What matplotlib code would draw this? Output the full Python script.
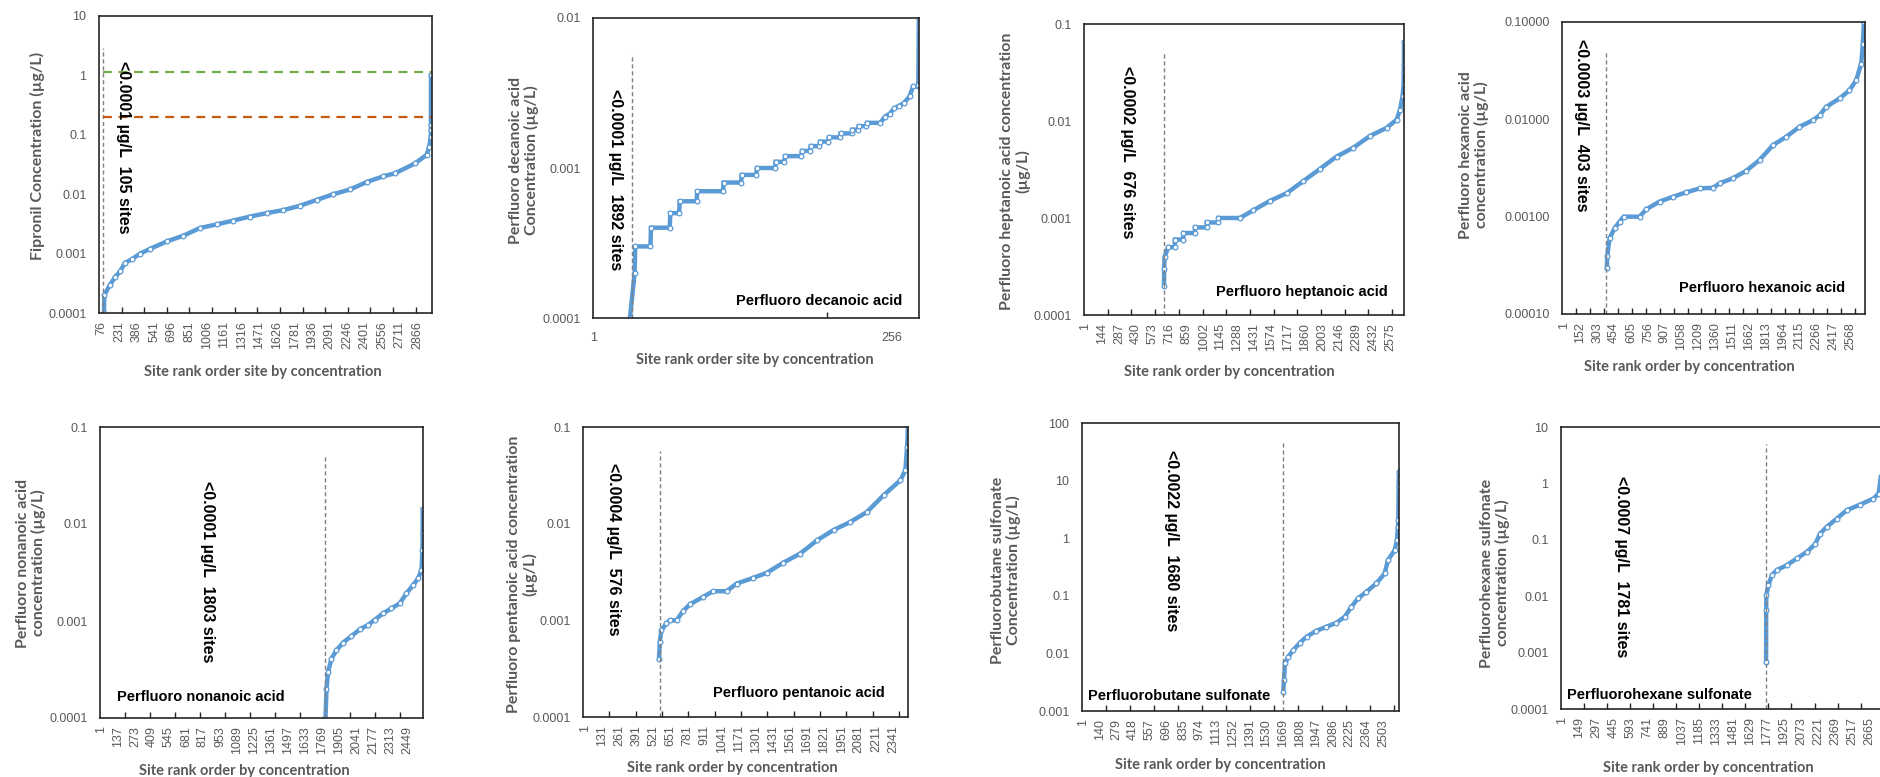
import matplotlib
matplotlib.use('Agg')
import matplotlib.pyplot as plt
from matplotlib.ticker import FixedLocator, NullLocator, FuncFormatter

# Site rank vs concentration
fipronil_rank = [96, 99, 150, 193, 238, 282, 341, 415, 503, 650, 797, 945, 1092, 1239, 1386,
                 1534, 1681, 1829, 1976, 2123, 2271, 2418, 2565, 2669, 2846, 2949, 2972, 2985,
                 2986, 2986, 2987]
fipronil_conc = [0.0001, 0.0002, 0.0003, 0.0004, 0.0005, 0.0007, 0.0008, 0.001, 0.0012, 0.0016,
                 0.002, 0.0027, 0.0031, 0.0036, 0.0042, 0.0048, 0.0054, 0.0064, 0.008, 0.01,
                 0.012, 0.016, 0.020, 0.0225, 0.033, 0.046, 0.063, 0.093, 0.12, 0.145, 1.0]
fipronil_xticks = [76, 231, 386, 541, 696, 851, 1006, 1161, 1316, 1471, 1626, 1781, 1936, 2091,
                   2246, 2401, 2556, 2711, 2866]
fipronil_limits = [1.15, 0.2]   # green / orange reference lines

pfda_rank = [32, 36, 36.5, 49.5, 50, 66, 66.5, 74, 74.5, 89, 89.5, 111.5, 112, 127, 127.5, 140,
             140.5, 156, 156.5, 164, 164.5, 178.5, 179, 186, 186.5, 194, 194.5, 201.5, 202, 211.5,
             212, 221.5, 222, 227, 227.5, 234, 234.5, 246, 250, 254, 258, 262, 266, 271, 274, 278,
             278.5, 279]
pfda_conc = [0.0001, 0.0002, 0.0003, 0.0003, 0.0004, 0.0004, 0.0005, 0.0005, 0.0006, 0.0006,
             0.0007, 0.0007, 0.0008, 0.0008, 0.0009, 0.0009, 0.001, 0.001, 0.0011, 0.0011, 0.0012,
             0.0012, 0.0013, 0.0013, 0.0014, 0.0014, 0.0015, 0.0015, 0.0016, 0.0016, 0.0017,
             0.0017, 0.0018, 0.0018, 0.0019, 0.0019, 0.002, 0.002, 0.0022, 0.0023, 0.0025, 0.0026,
             0.0027, 0.003, 0.0035, 0.0035, 0.0036, 0.01]
pfda_xticks = [1, 256]

pfhpa_rank = [668, 669, 673, 704, 759, 760, 830, 831, 928, 929, 1027, 1028, 1125, 1126, 1308,
              1421, 1561, 1702, 1843, 1983, 2124, 2265, 2405, 2546, 2630, 2659, 2681, 2690, 2692,
              2693, 2693]
pfhpa_conc = [0.0002, 0.0003, 0.0004, 0.0005, 0.0005, 0.0006, 0.0006, 0.0007, 0.0007, 0.0008,
              0.0008, 0.0009, 0.0009, 0.001, 0.001, 0.0012, 0.0015, 0.0018, 0.0024, 0.0032,
              0.0043, 0.0053, 0.0070, 0.0085, 0.0103, 0.013, 0.018, 0.024, 0.032, 0.039, 0.065]
pfhpa_xticks = [1, 144, 287, 430, 573, 716, 859, 1002, 1145, 1288, 1431, 1574, 1717, 1860, 2003,
                2146, 2289, 2432, 2575]

pfhxa_rank = [389, 392, 413, 458, 503, 539, 682, 742, 861, 981, 1100, 1220, 1339, 1399, 1518,
              1638, 1757, 1877, 1996, 2115, 2235, 2295, 2354, 2474, 2563, 2623, 2668, 2683, 2692]
pfhxa_conc = [0.0003, 0.00039, 0.0006, 0.00076, 0.00089, 0.001, 0.001, 0.00119, 0.00143, 0.0016,
              0.00178, 0.00195, 0.00198, 0.0022, 0.00248, 0.00296, 0.00382, 0.00543, 0.00662,
              0.00838, 0.0098, 0.011, 0.0134, 0.0164, 0.0199, 0.0252, 0.0374, 0.06, 0.1]
pfhxa_xticks = [1, 152, 303, 454, 605, 756, 907, 1058, 1209, 1360, 1511, 1662, 1813, 1964, 2115,
                2266, 2417, 2568]

pfna_rank = [1797, 1805, 1818, 1845, 1885, 1938, 2005, 2072, 2138, 2191, 2258, 2325, 2391, 2445,
             2498, 2538, 2565, 2573, 2574, 2575]
pfna_conc = [0.0001, 0.0002, 0.0003, 0.00041, 0.0005, 0.0006, 0.0007, 0.00082, 0.00091, 0.00103,
             0.0012, 0.00135, 0.00152, 0.00193, 0.00235, 0.00275, 0.00336, 0.0054, 0.008, 0.0142]
pfna_xticks = [1, 137, 273, 409, 545, 681, 817, 953, 1089, 1225, 1361, 1497, 1633, 1769, 1905,
               2041, 2177, 2313, 2449]

pfpea_rank = [565, 571, 583, 621, 647, 698, 748, 799, 900, 976, 1078, 1154, 1281, 1383, 1509,
              1636, 1763, 1890, 2017, 2143, 2270, 2397, 2435, 2448, 2455]
pfpea_conc = [0.0004, 0.0006, 0.00079, 0.00093, 0.001, 0.001, 0.00125, 0.00146, 0.00175, 0.002,
              0.002, 0.0024, 0.00275, 0.0031, 0.00395, 0.0049, 0.0067, 0.0086, 0.0104, 0.0132,
              0.0197, 0.0281, 0.0357, 0.062, 0.1]
pfpea_xticks = [1, 131, 261, 391, 521, 651, 781, 911, 1041, 1171, 1301, 1431, 1561, 1691, 1821,
                1951, 2081, 2211, 2341]

pfbs_rank = [1671, 1677, 1685, 1713, 1754, 1810, 1865, 1948, 2031, 2114, 2184, 2239, 2294, 2364,
             2447, 2516, 2544, 2600, 2619, 2627, 2630, 2633, 2636]
pfbs_conc = [0.00216, 0.00345, 0.0067, 0.00875, 0.0114, 0.0153, 0.0195, 0.0247, 0.029, 0.034,
             0.0432, 0.0645, 0.09, 0.117, 0.164, 0.244, 0.416, 0.62, 0.92, 1.57, 2.05, 8.0, 14.1]
pfbs_xticks = [1, 140, 279, 418, 557, 696, 835, 974, 1113, 1252, 1391, 1530, 1669, 1808, 1947,
               2086, 2225, 2364, 2503]

pfhxs_rank = [1769, 1770, 1771, 1790, 1819, 1862, 1949, 2036, 2123, 2195, 2238, 2296, 2383, 2470,
              2586, 2701, 2745, 2765]
pfhxs_conc = [0.00069, 0.0057, 0.0105, 0.0157, 0.0236, 0.029, 0.0355, 0.0467, 0.0611, 0.0837,
              0.129, 0.17, 0.238, 0.335, 0.422, 0.538, 0.66, 1.3]
pfhxs_xticks = [1, 149, 297, 445, 593, 741, 889, 1037, 1185, 1333, 1481, 1629, 1777, 1925, 2073,
                2221, 2369, 2517, 2665]

W, H = 1881, 777
BLUE = '#5B9BD5'
GREY = '#595959'
fig = plt.figure(figsize=(W / 100, H / 100), dpi=100)


def fx(x):
    return x / W


def fy(y):
    return 1 - y / H


# box = left, top, right, bottom in pixels; lod = (rank, top of dashed line)
panels = [
    dict(rank=fipronil_rank, conc=fipronil_conc, xticks=fipronil_xticks, box=(99, 16, 432, 313),
         xlim=(52, 2996), ylim=(1e-4, 10), step=200, lod=(85, 2.9), rot=90,
         note='<0.0001 µg/L  105 sites', note_xy=(123, 147), name=None, name_xy=None,
         ylabel='Fipronil Concentration (µg/L)', ylabel_xy=(37, 156),
         xlabel='Site rank order site by concentration', xlabel_xy=(263, 372), fmt='g'),
    dict(rank=pfda_rank, conc=pfda_conc, xticks=pfda_xticks, box=(593, 18, 919, 318),
         xlim=(0.4, 279.1), ylim=(1e-4, 1e-2), step=200, lod=(34, 0.00575), rot=0,
         note='<0.0001 µg/L  1892 sites', note_xy=(615, 180),
         name='Perfluoro decanoic acid', name_xy=(736, 301),
         ylabel='Perfluoro decanoic acid\nConcentration (µg/L)', ylabel_xy=(524, 160),
         xlabel='Site rank order site by concentration', xlabel_xy=(755, 360), fmt='g'),
    dict(rank=pfhpa_rank, conc=pfhpa_conc, xticks=pfhpa_xticks, box=(1084, 24, 1404, 315),
         xlim=(-7.4, 2693), ylim=(1e-4, 0.1), step=200, lod=(668, 0.052), rot=90,
         note='<0.0002 µg/L  676 sites', note_xy=(1127, 152),
         name='Perfluoro heptanoic acid', name_xy=(1216, 292),
         ylabel='Perfluoro heptanoic acid concentration\n(µg/L)', ylabel_xy=(1015, 171),
         xlabel='Site rank order by concentration', xlabel_xy=(1229, 372), fmt='g'),
    dict(rank=pfhxa_rank, conc=pfhxa_conc, xticks=pfhxa_xticks, box=(1562, 22, 1865, 314),
         xlim=(-13.3, 2702), ylim=(1e-4, 0.1), step=125, lod=(381, 0.052), rot=90,
         note='<0.0003 µg/L  403 sites', note_xy=(1582, 125),
         name='Perfluoro hexanoic acid', name_xy=(1679, 288),
         ylabel='Perfluoro hexanoic acid\nconcentration (µg/L)', ylabel_xy=(1474, 155),
         xlabel='Site rank order by concentration', xlabel_xy=(1689, 367), fmt='.5f'),
    dict(rank=pfna_rank, conc=pfna_conc, xticks=pfna_xticks, box=(100, 427, 423, 718),
         xlim=(-7, 2577), ylim=(1e-4, 0.1), step=200, lod=(1797, 0.051), rot=90,
         note='<0.0001 µg/L  1803 sites', note_xy=(207, 572),
         name='Perfluoro nonanoic acid', name_xy=(117, 697),
         ylabel='Perfluoro nonanoic acid\nconcentration (µg/L)', ylabel_xy=(31, 563),
         xlabel='Site rank order by concentration', xlabel_xy=(244, 771), fmt='g'),
    dict(rank=pfpea_rank, conc=pfpea_conc, xticks=pfpea_xticks, box=(583, 427, 908, 717),
         xlim=(-11.9, 2455), ylim=(1e-4, 0.1), step=200, lod=(571, 0.056), rot=90,
         note='<0.0004 µg/L  576 sites', note_xy=(614, 549),
         name='Perfluoro pentanoic acid', name_xy=(713, 693),
         ylabel='Perfluoro pentanoic acid concentration\n(µg/L)', ylabel_xy=(522, 574),
         xlabel='Site rank order by concentration', xlabel_xy=(732, 768), fmt='g'),
    dict(rank=pfbs_rank, conc=pfbs_conc, xticks=pfbs_xticks, box=(1082, 423, 1399, 711),
         xlim=(-7.3, 2636), ylim=(1e-3, 100), step=200, lod=(1671, 46.9), rot=90,
         note='<0.0022 µg/L  1680 sites', note_xy=(1172, 541),
         name='Perfluorobutane sulfonate', name_xy=(1088, 696),
         ylabel='Perfluorobutane sulfonate\nConcentration (µg/L)', ylabel_xy=(1006, 570),
         xlabel='Site rank order by concentration', xlabel_xy=(1220, 765), fmt='g'),
    dict(rank=pfhxs_rank, conc=pfhxs_conc, xticks=pfhxs_xticks, box=(1561, 427, 1885, 709),
         xlim=(-10.3, 2801), ylim=(1e-4, 10), step=200, lod=(1769, 4.9), rot=90,
         note='<0.0007 µg/L  1781 sites', note_xy=(1622, 567),
         name='Perfluorohexane sulfonate', name_xy=(1567, 695),
         ylabel='Perfluorohexane sulfonate\nconcentration (µg/L)', ylabel_xy=(1495, 573),
         xlabel='Site rank order by concentration', xlabel_xy=(1708, 768), fmt='g'),
]

for p in panels:
    L, T, R, B = p['box']
    ax = fig.add_axes([fx(L), fy(B), (R - L) / W, (B - T) / H])
    ax.set_yscale('log')
    ax.set_xlim(*p['xlim'])
    ax.set_ylim(*p['ylim'])

    ax.plot(p['rank'], p['conc'], color=BLUE, lw=3.2, marker='o', ms=3.4,
            mfc='white', mec=BLUE, mew=0.9, solid_joinstyle='miter', clip_on=True)

    # detection limit marker
    ax.vlines(p['lod'][0], p['ylim'][0], p['lod'][1], color='#7f7f7f', lw=1,
              linestyles=(0, (3, 2)))

    if p['name'] is None:
        ax.hlines(fipronil_limits[0], 90, p['xlim'][1], color='#70AD47', lw=1.6,
                  linestyles=(0, (4, 3)))
        ax.hlines(fipronil_limits[1], 90, p['xlim'][1], color='#C55A11', lw=1.6,
                  linestyles=(0, (4, 3)))

    # y axis
    fmt = p['fmt']
    ax.yaxis.set_major_formatter(FuncFormatter(lambda v, pos, f=fmt: format(v, f)))
    ax.yaxis.set_minor_locator(NullLocator())
    ax.tick_params(axis='y', length=0, pad=9, labelsize=9, labelcolor=GREY)

    # x axis: labels and tick marks on different intervals, like the original
    ax.xaxis.set_major_locator(FixedLocator(p['xticks']))
    ax.set_xticklabels([str(t) for t in p['xticks']], rotation=p['rot'])
    x0, x1 = p['xlim']
    marks = [x0 + p['step'] * k for k in range(1, int((x1 - x0) // p['step']) + 1)]
    ax.xaxis.set_minor_locator(FixedLocator(marks))
    ax.tick_params(axis='x', which='major', length=0, pad=6 if p['rot'] else 10,
                   labelsize=9, labelcolor=GREY)
    ax.tick_params(axis='x', which='minor', direction='in', length=4, width=1, color='#262626')

    for s in ax.spines.values():
        s.set_color('#262626')
        s.set_linewidth(1.2)

    for lab in ax.get_xticklabels() + ax.get_yticklabels():
        lab.set_fontfamily('Liberation Sans')

    fig.text(fx(p['note_xy'][0]), fy(p['note_xy'][1]), p['note'], rotation=-90,
             ha='center', va='center', fontsize=11.5, fontweight='bold',
             family='Liberation Sans', color='black')
    if p['name']:
        fig.text(fx(p['name_xy'][0]), fy(p['name_xy'][1]), p['name'], ha='left', va='center',
                 fontsize=10.5, fontweight='bold', family='Liberation Sans', color='black')
    fig.text(fx(p['ylabel_xy'][0]), fy(p['ylabel_xy'][1]), p['ylabel'], rotation=90,
             ha='center', va='center', multialignment='center', fontsize=11.5,
             fontweight='bold', family='Lato', color=GREY, linespacing=1.1)
    fig.text(fx(p['xlabel_xy'][0]), fy(p['xlabel_xy'][1]), p['xlabel'], ha='center',
             va='center', fontsize=10.5, fontweight='bold', family='Lato', color=GREY)

fig.savefig('out.png', dpi=100)
